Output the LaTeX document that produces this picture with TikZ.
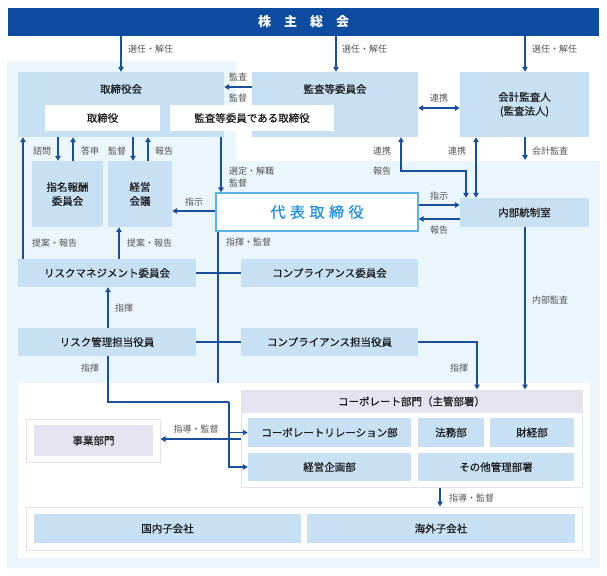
\documentclass[tikz,border=0pt]{standalone}
\usepackage{fontspec}
\setmainfont{Noto Sans CJK JP}
\newfontfamily\jpmed{Noto Sans CJK JP}[FakeBold=0.5]
\usetikzlibrary{arrows.meta}
\definecolor{titleblue}{HTML}{0D4C9E}
\definecolor{arrowblue}{HTML}{1B4F9C}
\definecolor{boxblue}{HTML}{C7E0F4}
\definecolor{bglight}{HTML}{EBF5FC}
\definecolor{lav}{HTML}{E5E3F0}
\definecolor{pborder}{HTML}{E3E2EC}
\definecolor{lblgray}{HTML}{555555}
\definecolor{txt}{HTML}{1A1A1A}
\definecolor{repborder}{HTML}{5AB4E6}
\definecolor{reptext}{HTML}{1E8FD8}
\begin{document}
\begin{tikzpicture}[x=1pt,y=-1pt,
  box/.style={fill=boxblue, draw=none, inner sep=0pt, text=txt, align=center, font=\jpmed\fontsize{10.5}{14}\selectfont},
  wbox/.style={box, fill=white},
  lbl/.style={inner sep=0pt, text=lblgray, font=\fontsize{9}{10}\selectfont},
  ln/.style={draw=arrowblue, line width=1.4pt},
  arr/.style={ln, -{Triangle[length=5pt,width=5.5pt]}},
  darr/.style={ln, {Triangle[length=5pt,width=5.5pt]}-{Triangle[length=5pt,width=5.5pt]}}
]
\useasboundingbox (0,0) rectangle (607,575);
\fill[white] (0,0) rectangle (607,575);
% light background
\fill[bglight] (7,61) -- (236,61) -- (236,161) -- (600,161) -- (600,568) -- (7,568) -- cycle;

% title
\node[fill=titleblue, inner sep=0pt, minimum width=591pt, minimum height=28pt, text=white, font=\bfseries\fontsize{13}{15}\selectfont] (gm) at (303.5,22) {株\hspace{1em}主\hspace{1em}総\hspace{1em}会};

% top row
\node[box, minimum width=206pt, minimum height=65pt] (board) at (121,104.5) {};
\node[box, inner sep=0pt] (boardt) at (121,89) {取締役会};
\node[box, minimum width=166pt, minimum height=65pt] (aud) at (335,104.5) {};
\node[box] (audt) at (335,89) {監査等委員会};
\node[wbox, minimum width=115pt, minimum height=26pt] (dir) at (102.5,118) {取締役};
\node[wbox, minimum width=164pt, minimum height=26pt] (auddir) at (252,118) {監査等委員である取締役};
\node[box, minimum width=129pt, minimum height=65pt] (acc) at (524.5,104.5) {会計監査人\\(監査法人)};

% second row
\node[box, minimum width=71pt, minimum height=66pt] (nom) at (67.5,194) {指名報酬\\委員会};
\node[box, minimum width=64pt, minimum height=66pt] (mgmt) at (140,194) {経営\\会議};
\node[fill=white, draw=repborder, line width=1.2pt, inner sep=0pt, minimum width=202pt, minimum height=38pt, text=reptext, font=\jpmed\fontsize{15}{17}\selectfont] (rep) at (317,212) {代\hspace{0.3em}表\hspace{0.3em}取\hspace{0.3em}締\hspace{0.3em}役};
\node[box, minimum width=129pt, minimum height=29pt] (ic) at (524.5,212.5) {内部統制室};

% committees
\node[box, minimum width=178pt, minimum height=28pt] (rmc) at (107,273) {リスクマネジメント委員会};
\node[box, minimum width=177pt, minimum height=28pt] (cc) at (329.5,273) {コンプライアンス委員会};
\node[box, minimum width=178pt, minimum height=28pt] (rmo) at (107,342) {リスク管理担当役員};
\node[box, minimum width=177pt, minimum height=28pt] (cco) at (329.5,342) {コンプライアンス担当役員};

% bottom panel
\node[fill=white, inner sep=0pt, minimum width=572pt, minimum height=175pt] (wpanel) at (304,470.5) {};
\node[fill=white, draw=pborder, line width=1pt, inner sep=0pt, minimum width=341pt, minimum height=97pt] (corp) at (411.5,438.5) {};
\node[box, fill=lav, minimum width=341pt, minimum height=23pt] (corph) at (411.5,401.5) {コーポレート部門（主管部署）};
\node[box, minimum width=163pt, minimum height=29pt] (crr) at (329.5,432.5) {コーポレートリレーション部};
\node[box, minimum width=66pt, minimum height=29pt] (legal) at (451,432.5) {法務部};
\node[box, minimum width=84pt, minimum height=29pt] (fin) at (532,432.5) {財経部};
\node[box, minimum width=163pt, minimum height=28pt] (plan) at (329.5,467) {経営企画部};
\node[box, minimum width=156pt, minimum height=28pt] (other) at (496,467) {その他管理部署};
\node[fill=white, draw=pborder, line width=1pt, inner sep=0pt, minimum width=134pt, minimum height=43pt] (biz) at (93,440.5) {};
\node[box, fill=lav, minimum width=119pt, minimum height=31pt] (bizi) at (93.5,440.5) {事業部門};
\node[fill=white, draw=pborder, line width=1pt, inner sep=0pt, minimum width=556pt, minimum height=43pt] (subs) at (304,528.5) {};
\node[box, minimum width=267pt, minimum height=29pt] (dom) at (167.5,528.5) {国内子会社};
\node[box, minimum width=268pt, minimum height=29pt] (ovs) at (441,528.5) {海外子会社};

% coordinates
\coordinate (c1) at (121,0);
\coordinate (c2) at (336,0);
\coordinate (c3) at (525,0);
\coordinate (ya) at (0,87);
\coordinate (yb) at (0,108);
\coordinate (x58) at (58,0);
\coordinate (x73) at (73,0);
\coordinate (x133) at (133,0);
\coordinate (x148) at (148,0);
\coordinate (x23) at (23,0);
\coordinate (x119) at (119,0);
\coordinate (y211) at (0,211);
\coordinate (x221) at (221,0);
\coordinate (x218) at (218,0);
\coordinate (vend) at (218,383);
\coordinate (x108) at (108,0);
\coordinate (j2) at (229,402);
\coordinate (k1) at (401,171);
\coordinate (k2) at (466,171);
\coordinate (x476) at (476,0);
\coordinate (accend) at (525,160);
\coordinate (y205) at (0,205);
\coordinate (y219) at (0,219);
\coordinate (m1) at (477,342);
\coordinate (y439) at (0,439);
\coordinate (x440) at (440,0);

% arrows from general meeting
\draw[arr] (gm.south -| c1) -- (board.north -| c1);
\draw[arr] (gm.south -| c2) -- (aud.north -| c2);
\draw[arr] (gm.south -| c3) -- (acc.north -| c3);
\node[lbl, anchor=west] (l1) at (128,49) {選任・解任};
\node[lbl, anchor=west] (l2) at (342,49) {選任・解任};
\node[lbl, anchor=west] (l3) at (532,49) {選任・解任};

% audit committee to board
\draw[arr] (aud.west |- ya) -- (board.east |- ya);
\node[lbl] (l4) at (238,77) {監査};
\node[lbl] (l5) at (238,98) {監督};
\draw[darr] (aud.east |- yb) -- (acc.west |- yb);
\node[lbl] (l6) at (439,98) {連携};

% board <-> committees
\draw[arr] (board.south -| x58) -- (nom.north -| x58);
\draw[arr] (nom.north -| x73) -- (board.south -| x73);
\draw[arr] (board.south -| x133) -- (mgmt.north -| x133);
\draw[arr] (mgmt.north -| x148) -- (board.south -| x148);
\node[lbl] (l7) at (42,151) {諮問};
\node[lbl] (l8) at (90,151) {答申};
\node[lbl] (l9) at (117,151) {監督};
\node[lbl] (l10) at (164,151) {報告};

\draw[arr] (rmc.north -| x23) -- (board.south -| x23);
\draw[arr] (rmc.north -| x119) -- (mgmt.south -| x119);
\node[lbl, anchor=west] (l11) at (32,243) {提案・報告};
\node[lbl, anchor=west] (l12) at (127,243) {提案・報告};

\draw[arr] (rep.west |- y211) -- (mgmt.east |- y211);
\node[lbl] (l13) at (194,202) {指示};

\draw[arr] (board.south -| x221) -- (rep.north -| x221);
\node[lbl, anchor=west] (l14) at (229,171) {選定・解職};
\node[lbl, anchor=west] (l15) at (229,183) {監督};

\draw[ln] (rep.south -| x218) -- (vend);
\node[lbl, anchor=west] (l16) at (226,242) {指揮・監督};
\draw[ln] (rmc.east) -- (cc.west);
\draw[ln] (rmo.east) -- (cco.west);

\draw[arr] (rmo.north -| x108) -- (rmc.south -| x108);
\node[lbl, anchor=west] (l17) at (115,308) {指揮};

\draw[ln] (rmo.south -| x108) |- (j2);
\draw[arr] (j2) |- (plan.west);
\draw[arr] (j2 |- crr.west) -- (crr.west);
\node[lbl, anchor=west] (l18) at (81,368) {指揮};

\draw[arr] (corp.west |- y439) -- (biz.east |- y439);
\node[lbl] (l19) at (196,429) {指導・監督};

\draw[arr] (cco.east) -- (m1) -- (corp.north -| m1);
\node[lbl, anchor=west] (l20) at (450,368) {指揮};

\draw[arr] (ic.south -| c3) -- (corp.north -| c3);
\node[lbl, anchor=west] (l21) at (532,300) {内部監査};

\draw[arr] (acc.south -| c3) -- (accend);
\node[lbl, anchor=west] (l22) at (532,151) {会計監査};

\draw[darr] (acc.south -| x476) -- (ic.north -| x476);
\node[lbl, anchor=west] (l23) at (448,151) {連携};

\draw[darr] (aud.south -| k1) -- (k1) -- (k2) -- (ic.north -| k2);
\node[lbl, anchor=west] (l24) at (373,151) {連携};
\node[lbl, anchor=west] (l25) at (373,171) {報告};

\draw[arr] (rep.east |- y205) -- (ic.west |- y205);
\draw[arr] (ic.west |- y219) -- (rep.east |- y219);
\node[lbl] (l26) at (439,196) {指示};
\node[lbl] (l27) at (439,230) {報告};

\draw[arr] (corp.south -| x440) -- (subs.north -| x440);
\node[lbl, anchor=west] (l28) at (449,498) {指導・監督};
\end{tikzpicture}
\end{document}
